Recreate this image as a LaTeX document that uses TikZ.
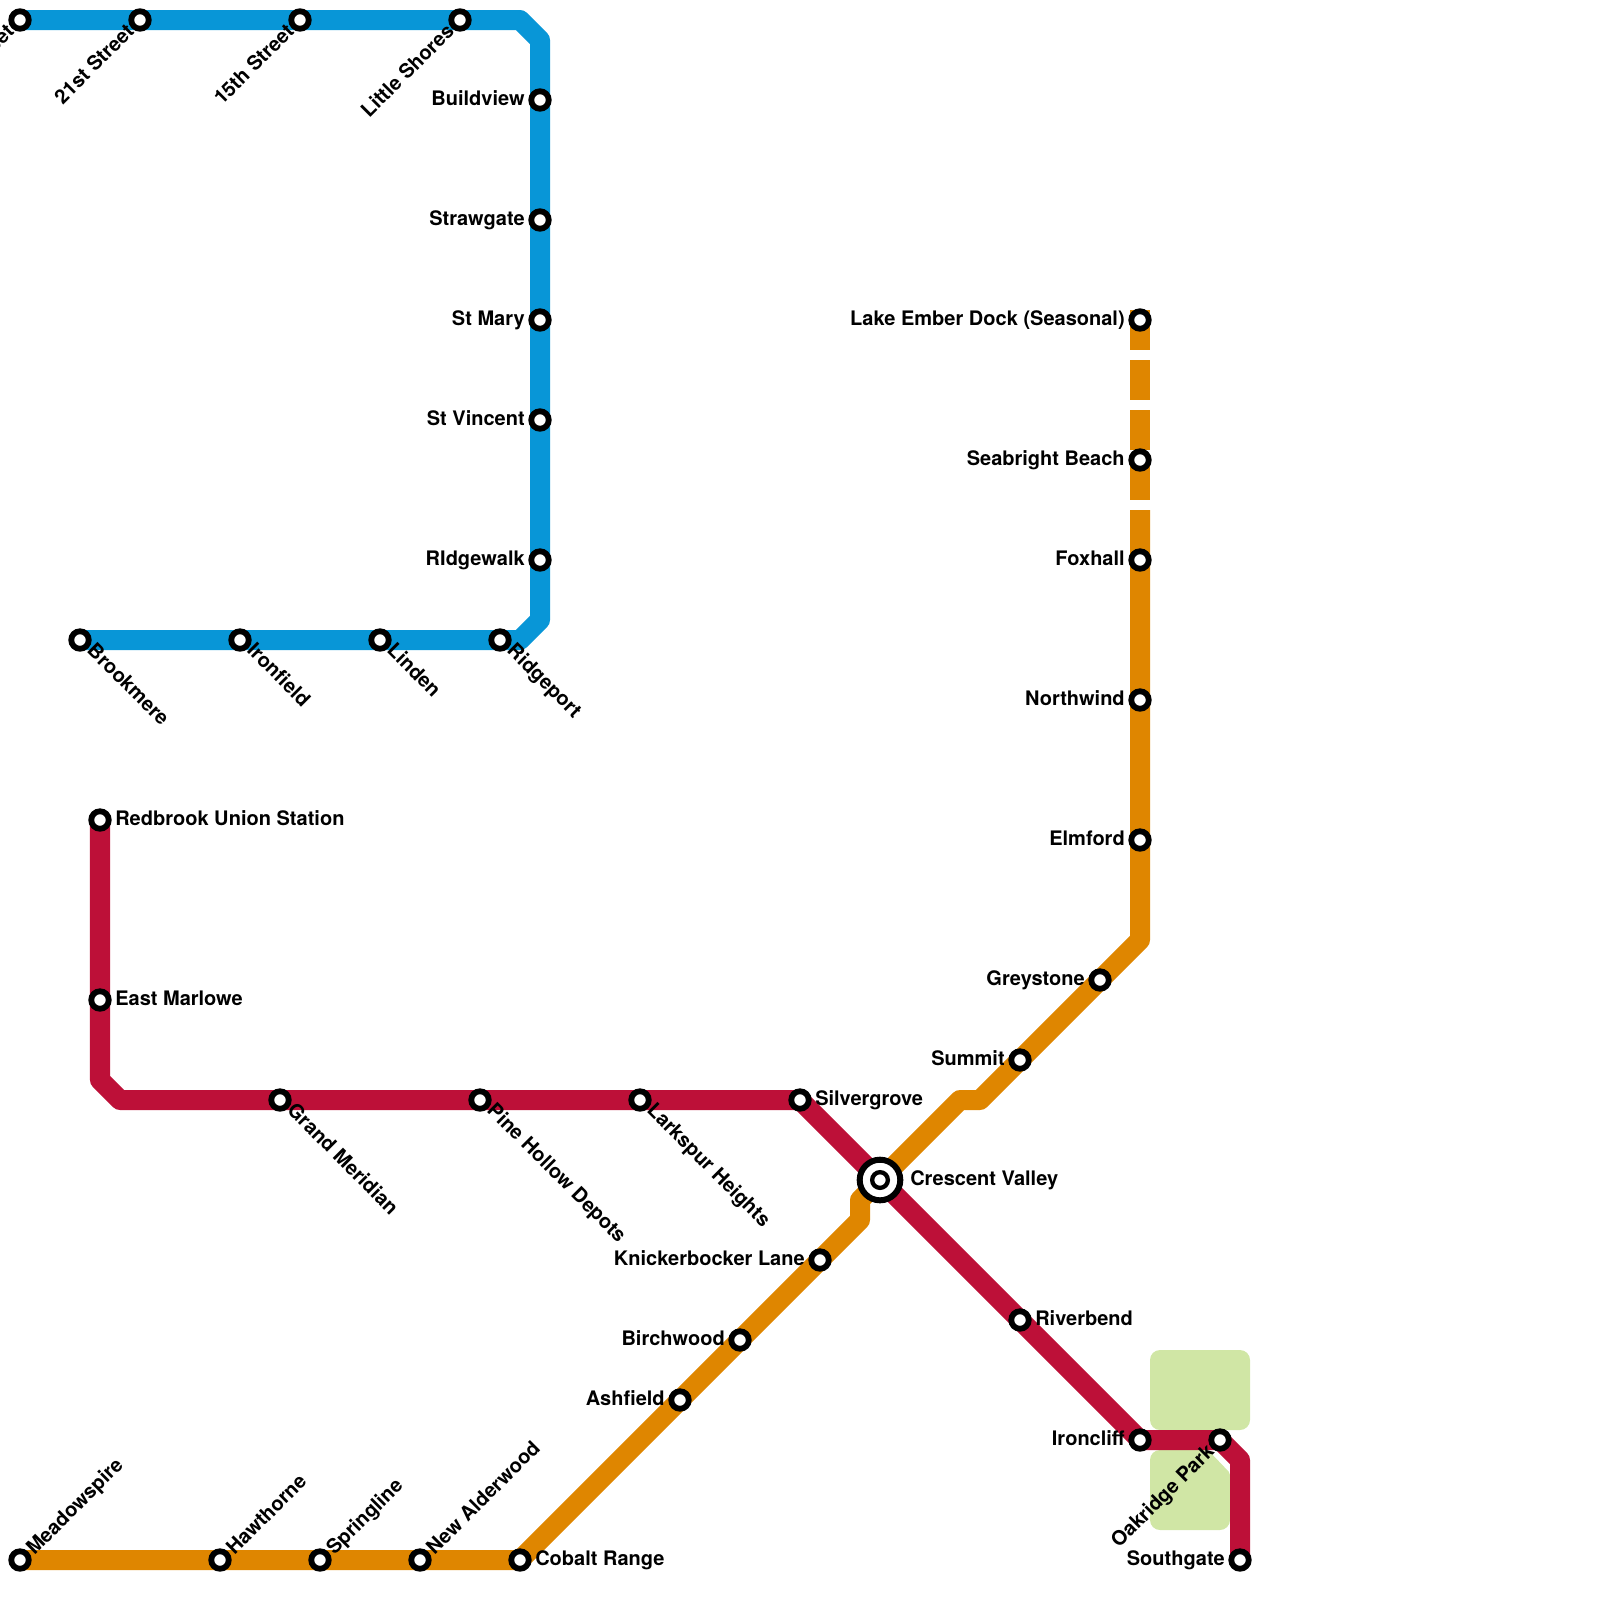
\documentclass[tikz,border=0pt]{standalone}
\usepackage{fontspec}
\setmainfont{TeX Gyre Heros}
\usepackage{xcolor}
\usepackage{tikz}
\usetikzlibrary{backgrounds}

\definecolor{lineblue}{HTML}{0896D7}
\definecolor{linered}{HTML}{BD1038}
\definecolor{lineorange}{HTML}{DF8600}
\definecolor{parkgreen}{HTML}{D0E6A5}

\tikzset{
    metro/.style={line width=0.5cm, line join=round},
    stn/.style={circle, draw=black, fill=white, line width=0.145cm, minimum size=0.4375cm, inner sep=0pt, outer sep=0pt},
    hub/.style={circle, draw=black, fill=white, line width=0.15cm, minimum size=1.015cm, inner sep=0pt, outer sep=0pt},
    hubin/.style={circle, draw=black, fill=white, line width=0.1075cm, minimum size=0.3925cm, inner sep=0pt, outer sep=0pt},
    txt/.style={font=\fontsize{14.23}{17}\selectfont\bfseries, inner sep=0pt},
    lbe/.style={txt, anchor=base west, xshift=0.375cm, yshift=-0.125cm},
    lbw/.style={txt, anchor=base east, xshift=-0.375cm, yshift=-0.125cm},
    lbup/.style={txt, anchor=base east, rotate=45, xshift=-0.305cm, yshift=-0.14cm},
    lbdn/.style={txt, anchor=base west, rotate=-45, xshift=0.3125cm, yshift=-0.1cm},
    lbur/.style={txt, anchor=base west, rotate=45, xshift=0.325cm, yshift=-0.1875cm},
}

\begin{document}
\begin{tikzpicture}[x=0.025cm, y=-0.025cm, >=latex]
    \useasboundingbox (0,0) rectangle (1600,1600);

    % Blue line stations
    \node[stn] (bstreet) at (20,20) {};
    \node[stn] (b21st) at (140,20) {};
    \node[stn] (b15th) at (300,20) {};
    \node[stn] (bshores) at (460,20) {};
    \node[stn] (bbuild) at (540,100) {};
    \node[stn] (bstraw) at (540,220) {};
    \node[stn] (bmary) at (540,320) {};
    \node[stn] (bvincent) at (540,420) {};
    \node[stn] (bridge) at (540,560) {};
    \node[stn] (bridgeport) at (500,640) {};
    \node[stn] (blinden) at (380,640) {};
    \node[stn] (biron) at (240,640) {};
    \node[stn] (bbrook) at (80,640) {};
    \coordinate (bc1) at (520,20);
    \coordinate (bc2) at (540,40);
    \coordinate (bc3) at (540,620);
    \coordinate (bc4) at (520,640);

    % Red line stations
    \node[stn] (rredbrook) at (100,820) {};
    \node[stn] (rmarlowe) at (100,1000) {};
    \node[stn] (rgrand) at (280,1100) {};
    \node[stn] (rpine) at (480,1100) {};
    \node[stn] (rlark) at (640,1100) {};
    \node[stn] (rsilver) at (800,1100) {};
    \node[hub] (crescent) at (880,1180) {};
    \node[hubin] (crescentin) at (880,1180) {};
    \node[stn] (rriver) at (1020,1320) {};
    \node[stn] (rironcliff) at (1140,1440) {};
    \node[stn] (roak) at (1220,1440) {};
    \node[stn] (rsouth) at (1240,1560) {};
    \coordinate (rc1) at (100,1080);
    \coordinate (rc2) at (120,1100);
    \coordinate (rc3) at (1240,1460);

    % Orange line stations
    \node[stn] (omeadow) at (20,1560) {};
    \node[stn] (ohaw) at (220,1560) {};
    \node[stn] (ospring) at (320,1560) {};
    \node[stn] (oalder) at (420,1560) {};
    \node[stn] (ocobalt) at (520,1560) {};
    \node[stn] (oash) at (680,1400) {};
    \node[stn] (obirch) at (740,1340) {};
    \node[stn] (oknick) at (820,1260) {};
    \node[stn] (osummit) at (1020,1060) {};
    \node[stn] (ogrey) at (1100,980) {};
    \node[stn] (oelm) at (1140,840) {};
    \node[stn] (onorth) at (1140,700) {};
    \node[stn] (ofox) at (1140,560) {};
    \node[stn] (osea) at (1140,460) {};
    \node[stn] (olake) at (1140,320) {};
    \coordinate (oc1) at (860,1220);
    \coordinate (oc2) at (860,1200);
    \coordinate (oc3) at (960,1100);
    \coordinate (oc4) at (980,1100);
    \coordinate (oc5) at (1140,940);
    \coordinate (oc6) at (1140,510);
    \coordinate (oc7) at (1140,500);
    \coordinate (oc8) at (1140,310);

    \begin{scope}[on background layer]
        % Park
        \fill[parkgreen, rounded corners=0.25cm] (1150,1350) rectangle (1250,1430);
        \fill[parkgreen, rounded corners=0.25cm] (1190,1530) -- (1150,1530) -- (1150,1450) -- (1195,1450) [rounded corners=0.05cm] -- (1208,1450) -- (1230,1473) -- (1230,1505) [rounded corners=0.25cm] -- (1230,1530) -- cycle;

        % Lines
        \draw[metro, lineblue] (bstreet.center) -- (bc1) -- (bc2) -- (bc3) -- (bc4) -- (bbrook.center);
        \draw[metro, linered] (rredbrook.center) -- (rc1) -- (rc2) -- (rsilver.center) -- (crescent.center) -- (rironcliff.center) -- (roak.center) -- (rc3) -- (rsouth.center);
        \draw[metro, lineorange] (omeadow.center) -- (ocobalt.center) -- (oc1) -- (oc2) -- (crescent.center) -- (oc3) -- (oc4) -- (oc5) -- (oc6);
        \draw[metro, lineorange, dash pattern=on 1cm off 0.25cm] (oc8) -- (oc7);
    \end{scope}

    % Blue line labels
    \node[lbup] (lbstreet) at (bstreet) {Street};
    \node[lbup] (lb21st) at (b21st) {21st Street};
    \node[lbup] (lb15th) at (b15th) {15th Street};
    \node[lbup] (lbshores) at (bshores) {Little Shores};
    \node[lbw] (lbbuild) at (bbuild) {Buildview};
    \node[lbw] (lbstraw) at (bstraw) {Strawgate};
    \node[lbw] (lbmary) at (bmary) {St Mary};
    \node[lbw] (lbvincent) at (bvincent) {St Vincent};
    \node[lbw] (lbridge) at (bridge) {RIdgewalk};
    \node[lbdn] (lbbrook) at (bbrook) {Brookmere};
    \node[lbdn] (lbiron) at (biron) {Ironfield};
    \node[lbdn] (lblinden) at (blinden) {Linden};
    \node[lbdn] (lbridgeport) at (bridgeport) {Ridgeport};

    % Red line labels
    \node[lbe] (lrredbrook) at (rredbrook) {Redbrook Union Station};
    \node[lbe] (lrmarlowe) at (rmarlowe) {East Marlowe};
    \node[lbdn] (lrgrand) at (rgrand) {Grand Meridian};
    \node[lbdn] (lrpine) at (rpine) {Pine Hollow Depots};
    \node[lbdn] (lrlark) at (rlark) {Larkspur Heights};
    \node[lbe] (lrsilver) at (rsilver) {Silvergrove};
    \node[lbe, xshift=0.375cm] (lcrescent) at (crescent) {Crescent Valley};
    \node[lbe] (lrriver) at (rriver) {Riverbend};
    \node[lbw] (lrironcliff) at (rironcliff) {Ironcliff};
    \node[lbup] (lroak) at (roak) {Oakridge Park};
    \node[lbw] (lrsouth) at (rsouth) {Southgate};

    % Orange line labels
    \node[lbur] (lomeadow) at (omeadow) {Meadowspire};
    \node[lbur] (lohaw) at (ohaw) {Hawthorne};
    \node[lbur] (lospring) at (ospring) {Springline};
    \node[lbur] (loalder) at (oalder) {New Alderwood};
    \node[lbe] (locobalt) at (ocobalt) {Cobalt Range};
    \node[lbw] (loash) at (oash) {Ashfield};
    \node[lbw] (lobirch) at (obirch) {Birchwood};
    \node[lbw] (loknick) at (oknick) {Knickerbocker Lane};
    \node[lbw] (losummit) at (osummit) {Summit};
    \node[lbw] (logrey) at (ogrey) {Greystone};
    \node[lbw] (loelm) at (oelm) {Elmford};
    \node[lbw] (lonorth) at (onorth) {Northwind};
    \node[lbw] (lofox) at (ofox) {Foxhall};
    \node[lbw] (losea) at (osea) {Seabright Beach};
    \node[lbw] (lolake) at (olake) {Lake Ember Dock (Seasonal)};
\end{tikzpicture}
\end{document}
